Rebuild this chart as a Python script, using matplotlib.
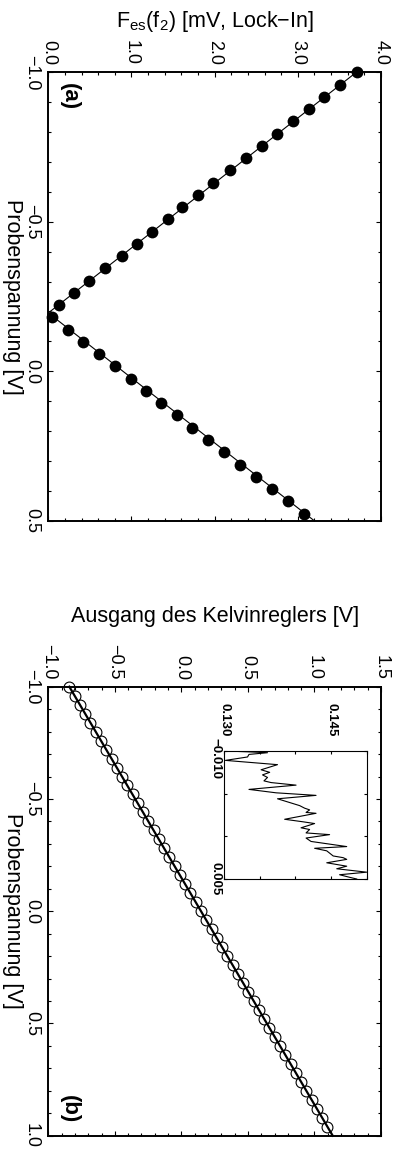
import matplotlib
matplotlib.use("Agg")
import matplotlib.pyplot as plt
from matplotlib.ticker import MultipleLocator, FixedLocator, FuncFormatter
from matplotlib.transforms import ScaledTranslation

plt.rcParams["font.family"] = ["Liberation Sans", "DejaVu Sans"]
plt.rcParams["mathtext.fontset"] = "custom"
plt.rcParams["mathtext.rm"] = "Liberation Sans"
plt.rcParams["mathtext.it"] = "Liberation Sans:italic"
plt.rcParams["ytick.alignment"] = "center"

# ---------------- data ----------------
# (a) electrostatic force amplitude at f2 vs. sample bias
bias_a = [-1.000, -0.959, -0.918, -0.877, -0.836, -0.795, -0.754, -0.713,
          -0.672, -0.631, -0.590, -0.549, -0.508, -0.467, -0.426, -0.385,
          -0.344, -0.303, -0.262, -0.221, -0.180, -0.139, -0.098, -0.057,
          -0.016, 0.025, 0.066, 0.107, 0.148, 0.189, 0.230, 0.271,
          0.312, 0.353, 0.394, 0.435, 0.476]
fes_a = [3.708, 3.507, 3.315, 3.131, 2.938, 2.749, 2.569, 2.373,
         2.184, 1.984, 1.800, 1.611, 1.435, 1.250, 1.066, 0.882,
         0.685, 0.493, 0.309, 0.129, 0.048, 0.240, 0.421, 0.610,
         0.802, 0.994, 1.175, 1.359, 1.547, 1.731, 1.920, 2.116,
         2.305, 2.497, 2.693, 2.878, 3.070]
fit_a_bias = [-1.0, -0.195, 0.5]
fit_a_fes = [3.703, 0.0, 3.197]

# (b) Kelvin controller output vs. sample bias
bias_b = [-1.00, -0.96, -0.92, -0.88, -0.84, -0.80, -0.76, -0.72, -0.68, -0.64,
          -0.60, -0.56, -0.52, -0.48, -0.44, -0.40, -0.36, -0.32, -0.28, -0.24,
          -0.20, -0.16, -0.12, -0.08, -0.04, 0.00, 0.04, 0.08, 0.12, 0.16,
          0.20, 0.24, 0.28, 0.32, 0.36, 0.40, 0.44, 0.48, 0.52, 0.56,
          0.60, 0.64, 0.68, 0.72, 0.76, 0.80, 0.84, 0.88, 0.92, 0.96]
kelvin_b = [-0.842, -0.802, -0.763, -0.723, -0.684, -0.644, -0.604, -0.565,
            -0.525, -0.486, -0.446, -0.407, -0.367, -0.327, -0.288, -0.248,
            -0.209, -0.169, -0.130, -0.090, -0.050, -0.011, 0.029, 0.068,
            0.108, 0.148, 0.187, 0.227, 0.266, 0.306, 0.345, 0.385,
            0.425, 0.464, 0.504, 0.543, 0.583, 0.622, 0.662, 0.702,
            0.741, 0.781, 0.820, 0.860, 0.899, 0.939, 0.979, 1.018,
            1.058, 1.097]
fit_b_bias = [-1.0, 1.0]
fit_b_kelvin = [-0.842, 1.137]

# inset: fine sweep around zero bias
bias_in = [-0.0100, -0.0099, -0.0098, -0.0096, -0.0093, -0.0089, -0.0084,
           -0.0078, -0.0075, -0.0072, -0.0069, -0.0065, -0.0063, -0.0060,
           -0.0055, -0.0051, -0.0048, -0.0044, -0.0036, -0.0033, -0.0031,
           -0.0028, -0.0027, -0.0020, -0.0017, -0.0015, -0.0010, -0.0008,
           -0.0004, -0.0002, 0.0002, 0.0006, 0.0012, 0.0014, 0.0017,
           0.0023, 0.0025, 0.0027, 0.0031, 0.0035, 0.0038, 0.0042,
           0.0045, 0.0048, 0.0050]
kelvin_in = [0.1302, 0.1335, 0.1361, 0.1335, 0.1333, 0.1302, 0.1375,
             0.1352, 0.1364, 0.1354, 0.1361, 0.1356, 0.1366, 0.1401,
             0.1335, 0.1373, 0.1429, 0.1375, 0.1406, 0.1413, 0.1420,
             0.1415, 0.1429, 0.1385, 0.1411, 0.1427, 0.1408, 0.1420,
             0.1415, 0.1448, 0.1415, 0.1422, 0.1472, 0.1427, 0.1444,
             0.1453, 0.1467, 0.1472, 0.1444, 0.1472, 0.1458, 0.1500,
             0.1462, 0.1476, 0.1486]

ticks_a_fes = [0.0, 1.0, 2.0, 3.0, 4.0]
ticks_a_bias = [-1.0, -0.5, 0.0, 0.5]
ticks_b_kelvin = [-1.0, -0.5, 0.0, 0.5, 1.0, 1.5]
ticks_b_bias = [-1.0, -0.5, 0.0, 0.5, 1.0]
ticks_in_kelvin = [0.130, 0.145]
ticks_in_bias = [-0.010, 0.005]


def minus_fmt(decimals):
    def f(x, pos):
        s = f"{x:.{decimals}f}"
        if s.startswith("-") and float(s) == 0:
            s = s[1:]
        return s.replace("-", "\u2212")
    return FuncFormatter(f)


def frame(ax, xmajor, xminor, ymajor, yminor, decimals, size, lw, ln):
    ax.xaxis.set_major_locator(FixedLocator(xmajor))
    ax.xaxis.set_minor_locator(MultipleLocator(xminor))
    ax.yaxis.set_major_locator(FixedLocator(ymajor))
    ax.yaxis.set_minor_locator(MultipleLocator(yminor))
    ax.xaxis.set_major_formatter(minus_fmt(decimals))
    ax.yaxis.set_major_formatter(minus_fmt(decimals))
    ax.tick_params(which="both", direction="in", top=True, bottom=True,
                   left=True, right=True, labeltop=True, labelbottom=False,
                   labelleft=True, labelright=False, width=0.8)
    ax.tick_params(which="major", length=ln[0], labelsize=size)
    ax.tick_params(which="minor", length=ln[1])
    ax.tick_params(axis="both", labelrotation=-90)
    for sp in ax.spines.values():
        sp.set_linewidth(lw)


W, H = 398.0, 1151.0


def rect(x0, y0, x1, y1):
    return [x0 / W, (H - y1) / H, (x1 - x0) / W, (y1 - y0) / H]


fig = plt.figure(figsize=(W / 100, H / 100), dpi=100)

# ---------------- panel (a) ----------------
ax_a = fig.add_axes(rect(48.3, 72.3, 381, 520.7))
ax_a.plot(fit_a_fes, fit_a_bias, color="black", lw=0.8, clip_on=False)
ax_a.plot(fes_a, bias_a, "o", color="black", ms=8.5, mew=0, clip_on=False)
ax_a.set_xlim(0, 4)
ax_a.set_ylim(0.5, -1.0)
frame(ax_a, ticks_a_fes, 0.2, ticks_a_bias, 0.1, 1, 13, 1.4, (3.6, 2.0))
ax_a.tick_params(axis="x", pad=5)
ax_a.tick_params(axis="y", pad=6)
ax_a.text(0.5, 1.100, "F$_{\\rm es}$(f$_{\\rm 2}$) [mV, Lock\u2212In]",
          transform=ax_a.transAxes, ha="center", va="baseline", fontsize=15.5)
ax_a.text(-0.108, 0.5, "Probenspannung [V]", transform=ax_a.transAxes,
          rotation=-90, ha="center", va="center", fontsize=15.5)
ax_a.text(0.062, 0.946, "(a)", transform=ax_a.transAxes, rotation=-90,
          ha="center", va="center", fontsize=16, fontweight="bold")

# ---------------- panel (b) ----------------
ax_b = fig.add_axes(rect(48.3, 686.7, 381, 1135.7))
ax_b.plot(fit_b_kelvin, fit_b_bias, color="black", lw=1.6, clip_on=False)
ax_b.plot(kelvin_b, bias_b, "o", mfc="none", mec="black", ms=7.8, mew=0.8,
          clip_on=False)
ax_b.set_xlim(-1.0, 1.5)
ax_b.set_ylim(1.0, -1.0)
frame(ax_b, ticks_b_kelvin, 0.1, ticks_b_bias, 0.1, 1, 13, 1.4, (3.6, 2.0))
ax_b.tick_params(axis="x", pad=5)
ax_b.tick_params(axis="y", pad=6)
ax_b.text(0.5, 1.145, "Ausgang des Kelvinreglers [V]",
          transform=ax_b.transAxes, ha="center", va="baseline", fontsize=15.5)
ax_b.text(-0.108, 0.5, "Probenspannung [V]", transform=ax_b.transAxes,
          rotation=-90, ha="center", va="center", fontsize=15.5)
ax_b.text(0.062, 0.059, "(b)", transform=ax_b.transAxes, rotation=-90,
          ha="center", va="center", fontsize=16, fontweight="bold")

# ---------------- inset ----------------
ax_in = fig.add_axes(rect(224, 751, 366.7, 879))
ax_in.plot(kelvin_in, bias_in, color="black", lw=0.8)
ax_in.set_xlim(0.130, 0.150)
ax_in.set_ylim(0.005, -0.010)
frame(ax_in, ticks_in_kelvin, 0.005, ticks_in_bias, 0.005, 3, 9.5, 0.8,
      (2.5, 2.5))
ax_in.tick_params(axis="x", pad=10.5)
ax_in.tick_params(axis="y", pad=2)
for tick in ax_in.xaxis.get_major_ticks() + ax_in.yaxis.get_major_ticks():
    tick.label1.set_fontweight("bold")
    tick.label2.set_fontweight("bold")
# nudge the upper bias label below the corner so it clears the 0.130 label
corner = ax_in.yaxis.get_major_ticks()[0].label1
corner.set_transform(corner.get_transform()
                     + ScaledTranslation(0, -0.08, fig.dpi_scale_trans))

fig.savefig("out.png", dpi=100)
